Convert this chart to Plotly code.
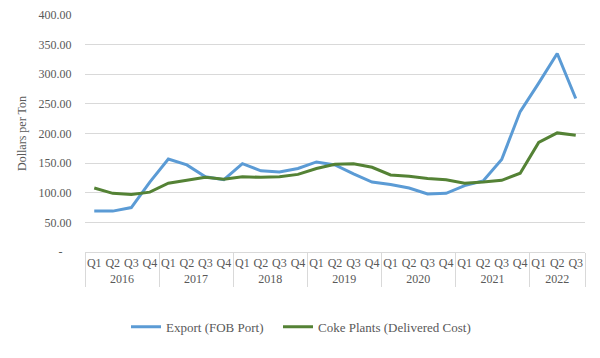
import plotly.graph_objects as go

years = ["2016"] * 4 + ["2017"] * 4 + ["2018"] * 4 + ["2019"] * 4 + ["2020"] * 4 + ["2021"] * 4 + ["2022"] * 3
quarters = ["Q1", "Q2", "Q3", "Q4"] * 6 + ["Q1", "Q2", "Q3"]

export_fob = [69, 69, 75, 118, 157, 147, 127, 122, 149, 137, 135, 141, 152, 147,
              132, 118, 114, 108, 98, 99, 112, 120, 156, 237, 285, 335, 259]
coke_plants = [108, 99, 97, 101, 116, 121, 126, 123, 127, 126, 127, 131, 141, 148,
               149, 143, 130, 128, 124, 122, 116, 118, 121, 133, 185, 201, 197]

y_ticks = [0, 50, 100, 150, 200, 250, 300, 350, 400]
y_tick_text = ["-\u00a0\u00a0\u00a0", "50.00", "100.00", "150.00", "200.00", "250.00", "300.00", "350.00", "400.00"]

FONT = "Liberation Serif"
GRAY = "#595959"

fig = go.Figure()
fig.add_trace(go.Scatter(x=[years, quarters], y=export_fob, mode="lines",
                         name="Export (FOB Port)", line=dict(color="#5B9BD5", width=3),
                         legend="legend"))
fig.add_trace(go.Scatter(x=[years, quarters], y=coke_plants, mode="lines",
                         name="Coke Plants (Delivered Cost)", line=dict(color="#548235", width=3),
                         legend="legend2"))

legend_common = dict(orientation="h", xref="container", xanchor="left",
                     y=0.087, yref="container", yanchor="middle",
                     font=dict(family=FONT, size=13, color=GRAY),
                     itemwidth=30, bgcolor="rgba(0,0,0,0)")

fig.update_layout(
    width=600, height=358,
    margin=dict(l=85, r=15, t=15, b=106),
    paper_bgcolor="white", plot_bgcolor="white",
    font=dict(family=FONT, size=12, color=GRAY),
    showlegend=True,
    legend=dict(x=126 / 600, **legend_common),
    legend2=dict(x=278 / 600, **legend_common),
    xaxis=dict(type="multicategory", range=[-0.5, 26.5], autorange=False, automargin=False,
               showgrid=False, showline=True, linecolor="#D9D9D9",
               linewidth=1, ticks="", tickangle=0,
               tickfont=dict(family=FONT, size=12, color=GRAY),
               showdividers=True, dividercolor="#D9D9D9", dividerwidth=1),
    yaxis=dict(range=[0, 400], tickvals=y_ticks, ticktext=y_tick_text, automargin=False,
               showgrid=True, gridcolor="#D9D9D9", gridwidth=1, zeroline=False,
               showline=False, ticks="outside", ticklen=10, tickcolor="rgba(0,0,0,0)",
               tickfont=dict(family=FONT, size=12, color=GRAY),
               title=dict(text="Dollars per Ton", standoff=9,
                          font=dict(family=FONT, size=12, color=GRAY))),
)

fig.write_html("out.html", config={"displayModeBar": False},
               post_script="document.body.style.margin='0';")
